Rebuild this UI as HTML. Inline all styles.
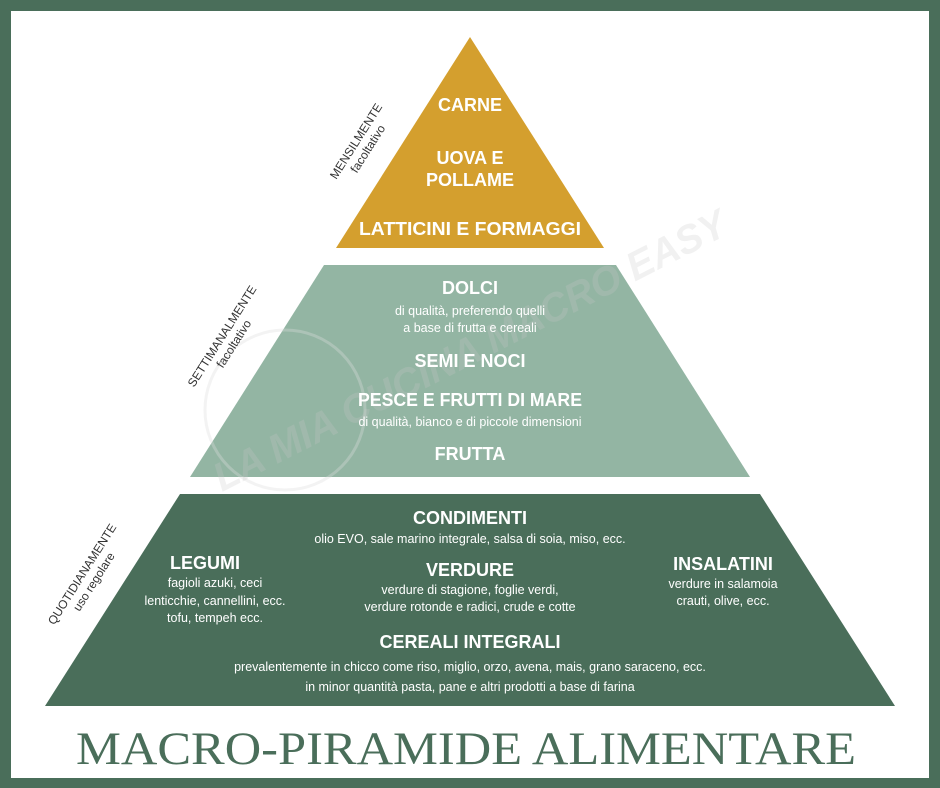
<!DOCTYPE html>
<html><head><meta charset="utf-8"><style>
html,body{margin:0;padding:0;background:#4a6e5a;}
svg{display:block}
</style></head><body>
<svg width="940" height="788" viewBox="0 0 940 788" xmlns="http://www.w3.org/2000/svg" font-family="'Liberation Sans', 'DejaVu Sans', sans-serif">
<rect x="0" y="0" width="940" height="788" fill="#4a6e5a"/>
<rect x="11" y="11" width="918" height="767" fill="#ffffff"/>
<polygon points="470,37 604,248 336,248" fill="#d49f2e"/>
<polygon points="324,265 616,265 750,477 190,477" fill="#93b5a3"/>
<polygon points="180,494 760,494 895,706 45,706" fill="#4a6e5a"/>
<!-- watermark -->
<circle cx="285" cy="410" r="80" fill="none" stroke="#dcdcdc" stroke-width="3" opacity="0.35"/>
<text x="0" y="0" transform="translate(222,492) rotate(-27)" font-size="40" font-weight="bold" font-style="italic" fill="#c8c8c8" opacity="0.25" textLength="570" lengthAdjust="spacingAndGlyphs">LA MIA CUCINA MACRO EASY</text>
<g fill="#ffffff" text-anchor="middle" font-weight="bold" font-size="18">
<text x="470" y="111">CARNE</text>
<text x="470" y="164">UOVA E</text>
<text x="470" y="186">POLLAME</text>
<text x="470" y="235" textLength="222" lengthAdjust="spacingAndGlyphs">LATTICINI E FORMAGGI</text>
<text x="470" y="294">DOLCI</text>
<text x="470" y="367">SEMI E NOCI</text>
<text x="470" y="406" textLength="224" lengthAdjust="spacingAndGlyphs">PESCE E FRUTTI DI MARE</text>
<text x="470" y="460">FRUTTA</text>
<text x="470" y="524">CONDIMENTI</text>
<text x="205" y="569">LEGUMI</text>
<text x="470" y="576">VERDURE</text>
<text x="723" y="570">INSALATINI</text>
<text x="470" y="648">CEREALI INTEGRALI</text>
</g>
<g fill="#ffffff" text-anchor="middle" font-size="12.5">
<text x="470" y="315">di qualità, preferendo quelli</text>
<text x="470" y="332">a base di frutta e cereali</text>
<text x="470" y="426">di qualità, bianco e di piccole dimensioni</text>
<text x="470" y="543">olio EVO, sale marino integrale, salsa di soia, miso, ecc.</text>
<text x="215" y="587">fagioli azuki, ceci</text>
<text x="215" y="605">lenticchie, cannellini, ecc.</text>
<text x="215" y="622">tofu, tempeh  ecc.</text>
<text x="470" y="594">verdure di stagione, foglie verdi,</text>
<text x="470" y="611">verdure rotonde e radici, crude e cotte</text>
<text x="723" y="588">verdure in salamoia</text>
<text x="723" y="605">crauti, olive, ecc.</text>
<text x="470" y="671">prevalentemente in chicco come riso, miglio, orzo, avena,  mais, grano saraceno, ecc.</text>
<text x="470" y="691">in minor quantità pasta, pane e altri prodotti a base di farina</text>
</g>
<g fill="#333" text-anchor="middle" font-size="12">
<g transform="translate(362,145) rotate(-57.6)"><text x="0" y="-3">MENSILMENTE</text><text x="0" y="11">facoltativo</text></g>
<g transform="translate(228,340) rotate(-57.6)"><text x="0" y="-3">SETTIMANALMENTE</text><text x="0" y="11">facoltativo</text></g>
<g transform="translate(88,578) rotate(-57.6)"><text x="0" y="-3">QUOTIDIANAMENTE</text><text x="0" y="11">uso regolare</text></g>
</g>
<text x="466" y="764" text-anchor="middle" font-family="'Liberation Serif', serif" font-size="47" fill="#4a6e5a" textLength="780" lengthAdjust="spacingAndGlyphs">MACRO-PIRAMIDE ALIMENTARE</text>
</svg>
</body></html>
